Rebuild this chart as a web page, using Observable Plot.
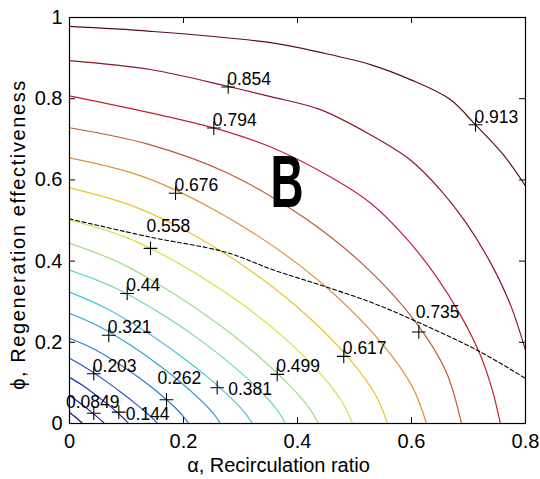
<!DOCTYPE html>
<html><head><meta charset="utf-8">
<script src="https://cdn.jsdelivr.net/npm/d3@7"></script>
<script src="https://cdn.jsdelivr.net/npm/@observablehq/plot@0.6"></script>
<style>
html,body{margin:0;padding:0;background:#fff;}
#chart{width:540px;height:479px;}
svg{display:block;}
.ylab text{letter-spacing:1.6px;}
</style></head><body><div id="chart"></div>
<script>
// ---- data ----
const levels = [0.0257, 0.0849, 0.144, 0.203, 0.262, 0.321, 0.381, 0.44, 0.499, 0.558, 0.617, 0.676, 0.735, 0.794, 0.854, 0.913];

const c0257Alpha = [0, 0.0091, 0.0182, 0.0228];
const c0257Phi   = [0.0272, 0.0172, 0.0061, 0];
const c0849Alpha = [0, 0.0123, 0.0246, 0.0368, 0.0491, 0.0614];
const c0849Phi   = [0.0691, 0.0569, 0.0437, 0.0299, 0.0156, 0];
const c144Alpha = [0, 0.0207, 0.0414, 0.0621, 0.0776, 0.0911, 0.0994, 0.1035];
const c144Phi   = [0.1136, 0.0958, 0.0752, 0.0527, 0.0347, 0.0179, 0.0066, 0];
const c203Alpha = [0, 0.0309, 0.0618, 0.0926, 0.1158, 0.1359, 0.1482, 0.1544];
const c203Phi   = [0.1605, 0.1354, 0.1062, 0.0745, 0.049, 0.0254, 0.0094, 0];
const c262Alpha = [0, 0.0418, 0.0835, 0.1253, 0.1566, 0.1837, 0.2004, 0.2088];
const c262Phi   = [0.2099, 0.1842, 0.1498, 0.1096, 0.0752, 0.0413, 0.0166, 0];
const c321Alpha = [0, 0.053, 0.106, 0.1589, 0.1987, 0.2331, 0.2543, 0.2649];
const c321Phi   = [0.2716, 0.2384, 0.1938, 0.1418, 0.0974, 0.0535, 0.0215, 0];
const c381Alpha = [0, 0.0642, 0.1284, 0.1926, 0.2408, 0.2825, 0.3082, 0.3211];
const c381Phi   = [0.3235, 0.2839, 0.2308, 0.1688, 0.116, 0.0637, 0.0257, 0];
const c440Alpha = [0, 0.0758, 0.1516, 0.2274, 0.2842, 0.3335, 0.3638, 0.3789];
const c440Phi   = [0.3778, 0.3368, 0.2781, 0.2072, 0.145, 0.0818, 0.0342, 0];
const c499Alpha = [0, 0.0874, 0.1747, 0.2621, 0.3276, 0.3844, 0.4194, 0.4368];
const c499Phi   = [0.4444, 0.3962, 0.3272, 0.2437, 0.1705, 0.0962, 0.0403, 0];
const c558Alpha = [0, 0.0993, 0.1986, 0.2979, 0.3724, 0.4369, 0.4766, 0.4965];
const c558Phi   = [0.5012, 0.4583, 0.3888, 0.2991, 0.2164, 0.128, 0.0574, 0];
const c617Alpha = [0, 0.1116, 0.2232, 0.3347, 0.4184, 0.4909, 0.5356, 0.5579];
const c617Phi   = [0.5802, 0.5353, 0.4601, 0.3592, 0.2637, 0.1594, 0.0737, 0];
const c676Alpha = [0, 0.1253, 0.2505, 0.3758, 0.4697, 0.5512, 0.6012, 0.6263];
const c676Phi   = [0.6543, 0.6099, 0.5291, 0.4185, 0.3116, 0.1921, 0.0914, 0];
const c735Alpha = [0, 0.1375, 0.2751, 0.4126, 0.5158, 0.6053, 0.6602, 0.6877];
const c735Phi   = [0.7284, 0.688, 0.6183, 0.5062, 0.3906, 0.2536, 0.1296, 0];
const c794Alpha = [0, 0.142, 0.253, 0.353, 0.458, 0.528, 0.589, 0.642, 0.686, 0.721, 0.742, 0.756];
const c794Phi   = [0.807, 0.765, 0.728, 0.681, 0.607, 0.543, 0.459, 0.365, 0.267, 0.168, 0.081, 0];
const c854Alpha = [0, 0.142, 0.279, 0.353, 0.44, 0.528, 0.598, 0.651, 0.695, 0.739, 0.774, 0.8];
const c854Phi   = [0.894, 0.872, 0.83, 0.805, 0.773, 0.711, 0.649, 0.575, 0.496, 0.395, 0.291, 0.18];
const c913Alpha = [0, 0.142, 0.353, 0.44, 0.528, 0.598, 0.668, 0.712, 0.761, 0.8];
const c913Phi   = [0.978, 0.966, 0.938, 0.914, 0.884, 0.847, 0.798, 0.736, 0.662, 0.585];

const labelText  = ["0.0849", "0.144", "0.203", "0.262", "0.321", "0.381", "0.44", "0.499", "0.558", "0.617", "0.676", "0.735", "0.794", "0.854", "0.913"];
const labelAlpha = [0.0426, 0.0865, 0.0426, 0.1702, 0.0689, 0.2591, 0.1012, 0.3644, 0.1421, 0.4812, 0.186, 0.6128, 0.2532, 0.2784, 0.7123];
const labelPhi   = [0.0254, 0.0279, 0.1227, 0.0585, 0.2173, 0.0881, 0.3202, 0.121, 0.4314, 0.1654, 0.5672, 0.2254, 0.7277, 0.8289, 0.7358];

const dashedAlpha = [0, 0.142, 0.274, 0.358, 0.44, 0.528, 0.604, 0.716, 0.8];
const dashedPhi   = [0.504, 0.459, 0.422, 0.378, 0.341, 0.299, 0.254, 0.18, 0.111];

const xTicks = [0, 0.2, 0.4, 0.6, 0.8];
const xTickLabels = ["0", "0.2", "0.4", "0.6", "0.8"];
const yTicks = [0, 0.2, 0.4, 0.6, 0.8, 1];
const yTickLabels = ["0", "0.2", "0.4", "0.6", "0.8", "1"];
const xLabel = "α, Recirculation ratio";
const yLabel = "ϕ, Regeneration effectiveness";
const panelLetter = "B";
const panelAlpha = 0.3825, panelPhi = 0.531;

// ---- build tables ----
const contours = [
  [c0257Alpha, c0257Phi], [c0849Alpha, c0849Phi], [c144Alpha, c144Phi], [c203Alpha, c203Phi],
  [c262Alpha, c262Phi], [c321Alpha, c321Phi], [c381Alpha, c381Phi], [c440Alpha, c440Phi],
  [c499Alpha, c499Phi], [c558Alpha, c558Phi], [c617Alpha, c617Phi], [c676Alpha, c676Phi],
  [c735Alpha, c735Phi], [c794Alpha, c794Phi], [c854Alpha, c854Phi], [c913Alpha, c913Phi]
];
const rows = contours.flatMap(([a, p], i) => a.map((x, j) => ({level: levels[i], alpha: x, phi: p[j]})));
const labels = labelText.map((t, i) => ({text: t, alpha: labelAlpha[i], phi: labelPhi[i]}));
const dashed = dashedAlpha.map((a, i) => ({alpha: a, phi: dashedPhi[i]}));

// ---- styling ----
const jet = ["#14146e", "#1c1c98", "#2236b8", "#2852cc", "#2c7ccc", "#30a2d0", "#44c4d6", "#6cd6bc",
             "#a2dc84", "#dcdc3c", "#e8c428", "#d89638", "#b85a34", "#c42034", "#8e1424", "#5a1018"];
const font = '"Liberation Sans", Arial, sans-serif';
const labelOffsets = {
  "0.0849": {textAnchor: "middle", dx: -1, dy: -5, lineAnchor: "bottom"},
  "0.262": {dx: -9, dy: -16, lineAnchor: "bottom"},
  "0.558": {dx: -4, dy: -16, lineAnchor: "bottom"},
  "0.735": {dx: -3, dy: -14, lineAnchor: "bottom"},
  "0.381": {dx: 11, dy: 2, lineAnchor: "middle"},
  "0.144": {dx: 7, dy: 2, lineAnchor: "middle"}
};
const tx = 6 / 406, ty = 6 / 570;

const plot = Plot.plot({
  width: 540, height: 479,
  marginLeft: 69, marginRight: 15, marginTop: 17, marginBottom: 56,
  style: {fontFamily: font, fontSize: "17.5px", background: "white", color: "black"},
  x: {domain: [0, 0.8], label: null},
  y: {domain: [0, 1], label: null},
  color: {type: "ordinal", domain: levels, range: jet},
  marks: [
    Plot.line(rows, {x: "alpha", y: "phi", z: "level", stroke: "level", strokeWidth: 1.2, curve: "catmull-rom", clip: true}),
    Plot.line(dashed, {x: "alpha", y: "phi", stroke: "black", strokeWidth: 1.1, strokeDasharray: "4,2.5", curve: "catmull-rom", clip: true}),
    Plot.dot(labels, {x: "alpha", y: "phi", symbol: "plus", r: 4.5, stroke: "black", strokeWidth: 1.1}),
    ...labels.map(l => Plot.text([l], {
      x: "alpha", y: "phi", text: "text", fill: "black", fontSize: 17.5,
      textAnchor: "start", dx: -1, dy: -2, lineAnchor: "bottom",
      ...(labelOffsets[l.text] || {})
    })),
    Plot.frame({stroke: "black", strokeWidth: 1.2}),
    Plot.ruleX(xTicks, {x: d => d, y1: 0, y2: tx, stroke: "black"}),
    Plot.ruleX(xTicks, {x: d => d, y1: 1, y2: 1 - tx, stroke: "black"}),
    Plot.ruleY(yTicks, {y: d => d, x1: 0, x2: ty, stroke: "black"}),
    Plot.ruleY(yTicks, {y: d => d, x1: 0.8, x2: 0.8 - ty, stroke: "black"}),
    Plot.axisX(xTicks, {anchor: "bottom", tickSize: 0, tickPadding: 10, fontSize: 20, label: null,
      tickFormat: d => xTickLabels[xTicks.indexOf(d)]}),
    Plot.axisY(yTicks, {anchor: "left", tickSize: 0, tickPadding: 7, fontSize: 20, label: null,
      tickFormat: d => yTickLabels[yTicks.indexOf(d)]}),
    Plot.text([xLabel], {frameAnchor: "bottom", text: d => d, dx: -19, dy: 34, lineAnchor: "top", fontSize: 20, fill: "black"}),
    Plot.text([yLabel], {frameAnchor: "left", text: d => d, rotate: -90, textAnchor: "middle", lineAnchor: "middle",
      dx: -51, dy: 14, fontSize: 20, fill: "black", className: "ylab"})
  ]
});

// Panel letter, placed through the plot's own scales
const sx = plot.scale("x"), sy = plot.scale("y");
d3.select(plot).append("text")
  .attr("transform", `translate(${sx.apply(panelAlpha)},${sy.apply(panelPhi)}) scale(0.62,1)`)
  .attr("text-anchor", "middle")
  .attr("font-family", font)
  .attr("font-weight", "bold")
  .attr("font-size", 74)
  .attr("fill", "black")
  .text(panelLetter);

document.getElementById("chart").appendChild(plot);
</script>
</body></html>
